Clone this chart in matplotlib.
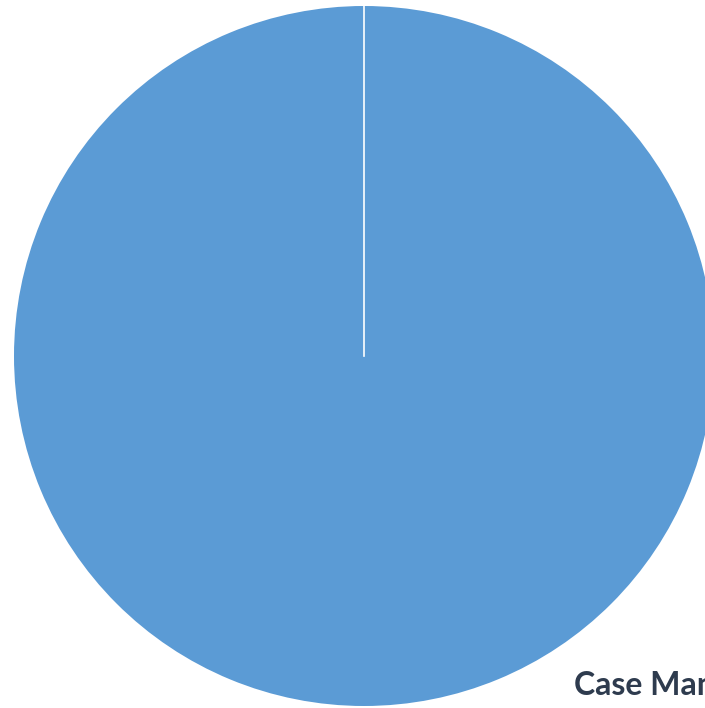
import matplotlib.pyplot as plt

# single-category pie
labels = ["Case Management"]
values = [100]
colors = ["#5B9BD5"]

fig = plt.figure(figsize=(7.05, 7.08), dpi=100)
ax = fig.add_axes([0, 0, 1, 1])

ax.pie(values, colors=colors, startangle=90, counterclock=False,
       center=(364, 356), radius=350,
       wedgeprops=dict(linewidth=0))
# white separator line at the slice start
ax.plot([364, 364], [356, 6], color="white", linewidth=1.2)

ax.set_xlim(0, 705)
ax.set_ylim(708, 0)
ax.set_aspect("equal")
ax.axis("off")

ax.text(574, 695, labels[0], fontsize=23, fontweight="bold",
        family="Lato", color="#2E3B4E", va="baseline", ha="left",
        clip_on=False)

fig.savefig("out.png", dpi=100)
